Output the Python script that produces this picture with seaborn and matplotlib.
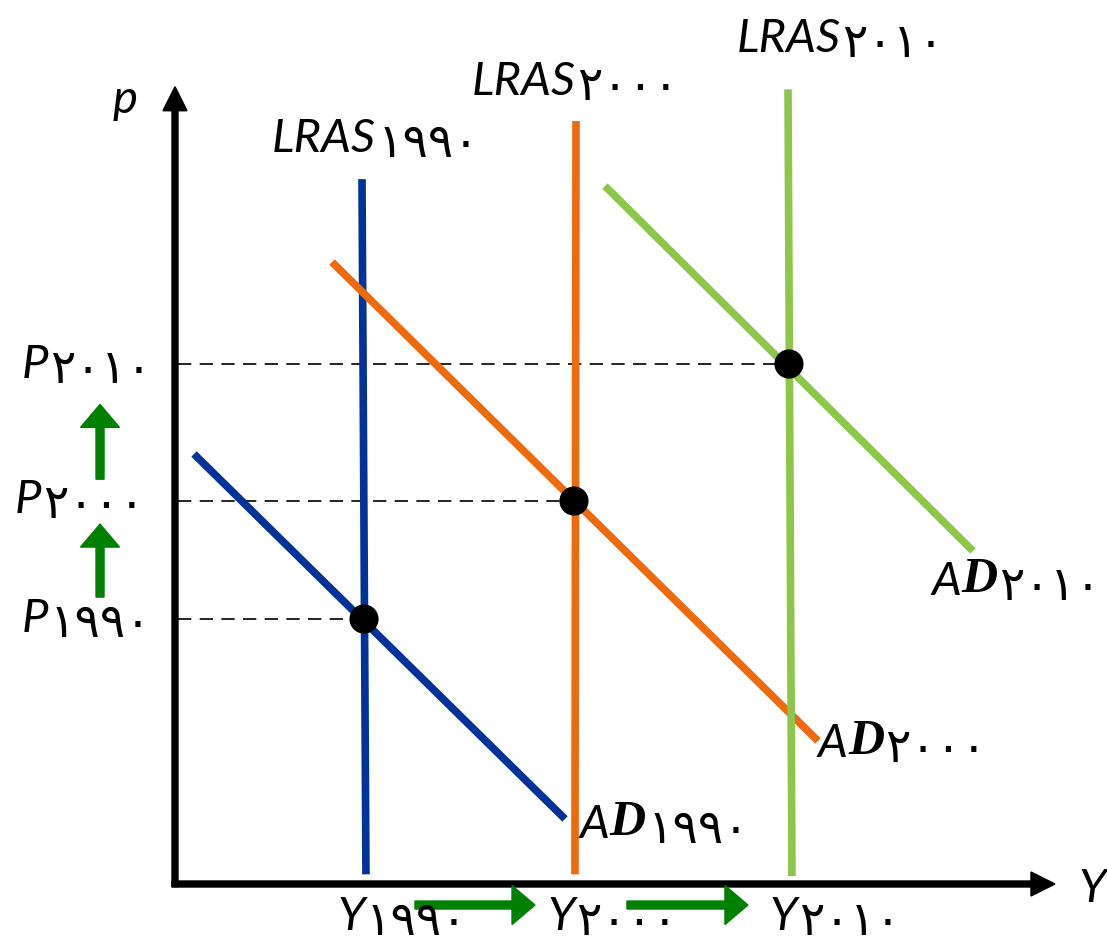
import pandas as pd
import seaborn as sns
import matplotlib.pyplot as plt

sns.set_style('white')

# --- data (chart units: output Y on x, price level P on y) ---
years = ['۱۹۹۰', '۲۰۰۰', '۲۰۱۰']
colors = ['#003399', '#ee6a0e', '#8dc64b']

# long-run aggregate supply lines (nearly vertical): top and bottom ends
lras_x_top = [2.125, 4.557, 6.966]
lras_y_top = [8.01, 8.67, 9.03]
lras_x_bot = [2.170, 4.545, 7.011]
lras_y_bot = [0.11, 0.11, 0.09]

# aggregate demand lines: left and right ends
ad_x_left = [0.216, 1.784, 4.886]
ad_y_left = [4.886, 7.068, 7.932]
ad_x_right = [4.432, 7.307, 9.068]
ad_y_right = [0.739, 1.625, 3.784]

# equilibria
eq_y_out = [2.148, 4.534, 6.977]
eq_price = [3.011, 4.352, 5.909]

# --- layout ---
fig = plt.figure(figsize=(11.07, 9.45), dpi=100)
ax = fig.add_axes([0, 0, 1, 1])
ax.set_xlim(-175 / 88, 932 / 88)
ax.set_ylim(-60 / 88, 885 / 88)
ax.axis('off')

# dashed guides to the price axis
for ex, ep in zip(eq_y_out, eq_price):
    sns.lineplot(x=[0.03, ex], y=[ep, ep], color='black', lw=1.2,
                 linestyle=(0, (8, 5)), sort=False, estimator=None, ax=ax)

for i in range(3):
    sns.lineplot(x=[lras_x_top[i], lras_x_bot[i]], y=[lras_y_top[i], lras_y_bot[i]],
                 color=colors[i], lw=5.5, sort=False, estimator=None, ax=ax,
                 solid_capstyle='butt')
    sns.lineplot(x=[ad_x_left[i], ad_x_right[i]], y=[ad_y_left[i], ad_y_right[i]],
                 color=colors[i], lw=5.5, sort=False, estimator=None, ax=ax,
                 solid_capstyle='butt')

sns.scatterplot(x=eq_y_out, y=eq_price, s=440, color='black', edgecolor='none',
                zorder=5, ax=ax, legend=False)

# axes with arrow heads
ax.arrow(0, -0.03, 0, 9.09, width=6 / 88, head_width=24 / 88, head_length=24 / 88,
         length_includes_head=True, color='black', zorder=6)
ax.arrow(-0.035, 0, 10.035, 0, width=6 / 88, head_width=24 / 88, head_length=24 / 88,
         length_includes_head=True, color='black', zorder=6)

# green shift arrows
green = '#008000'
for y0, y1 in [(4.60, 5.45), (3.26, 4.09)]:
    ax.arrow(-0.852, y0, 0, y1 - y0, width=8 / 88, head_width=39 / 88, head_length=23 / 88,
             length_includes_head=True, color=green, zorder=6)
for x0, x1 in [(2.727, 4.091), (5.136, 6.511)]:
    ax.arrow(x0, -0.239, x1 - x0, 0, width=8 / 88, head_width=39 / 88, head_length=23 / 88,
             length_includes_head=True, color=green, zorder=6)

# --- labels ---
fs = 34
latin = dict(family=['Lato', 'DejaVu Sans'], style='italic', weight='normal',
             fontsize=fs, color='black')
digit = dict(family=['DejaVu Sans'], weight='normal', fontsize=fs, color='black')


def label(x, y, letters, yr, bold_d=False):
    t = ax.text(x, y, letters, ha='left', va='baseline', zorder=7, **latin)
    if bold_d:
        t = ax.annotate('D', xy=(1, 0), xycoords=t, ha='left', va='bottom',
                        family=['Liberation Serif'], style='italic', weight='bold',
                        fontsize=fs + 2, color='black', zorder=7)
    ax.annotate(yr, xy=(1, 0), xycoords=t, ha='left', va='bottom',
                xytext=(1, -5), textcoords='offset points', zorder=7, **digit)


lras_pos = [(1.102, 8.33), (3.375, 8.977), (6.386, 9.466)]
ad_pos = [(4.602, 0.534), (7.307, 1.455), (8.602, 3.295)]
p_pos = [(-1.739, 2.875), (-1.818, 4.227), (-1.739, 5.761)]
y_pos = [(1.841, -0.511), (4.227, -0.511), (6.761, -0.511)]
for i, yr in enumerate(years):
    label(*lras_pos[i], 'LRAS', yr)
    label(*ad_pos[i], 'A', yr, bold_d=True)
    label(*p_pos[i], 'P', yr)
    label(*y_pos[i], 'Y', yr)

ax.text(-0.57, 8.92, 'p', ha='center', va='center', **latin)
ax.text(10.42, -0.05, 'Y', ha='center', va='center', **latin)

fig.savefig('out.png', dpi=100)
